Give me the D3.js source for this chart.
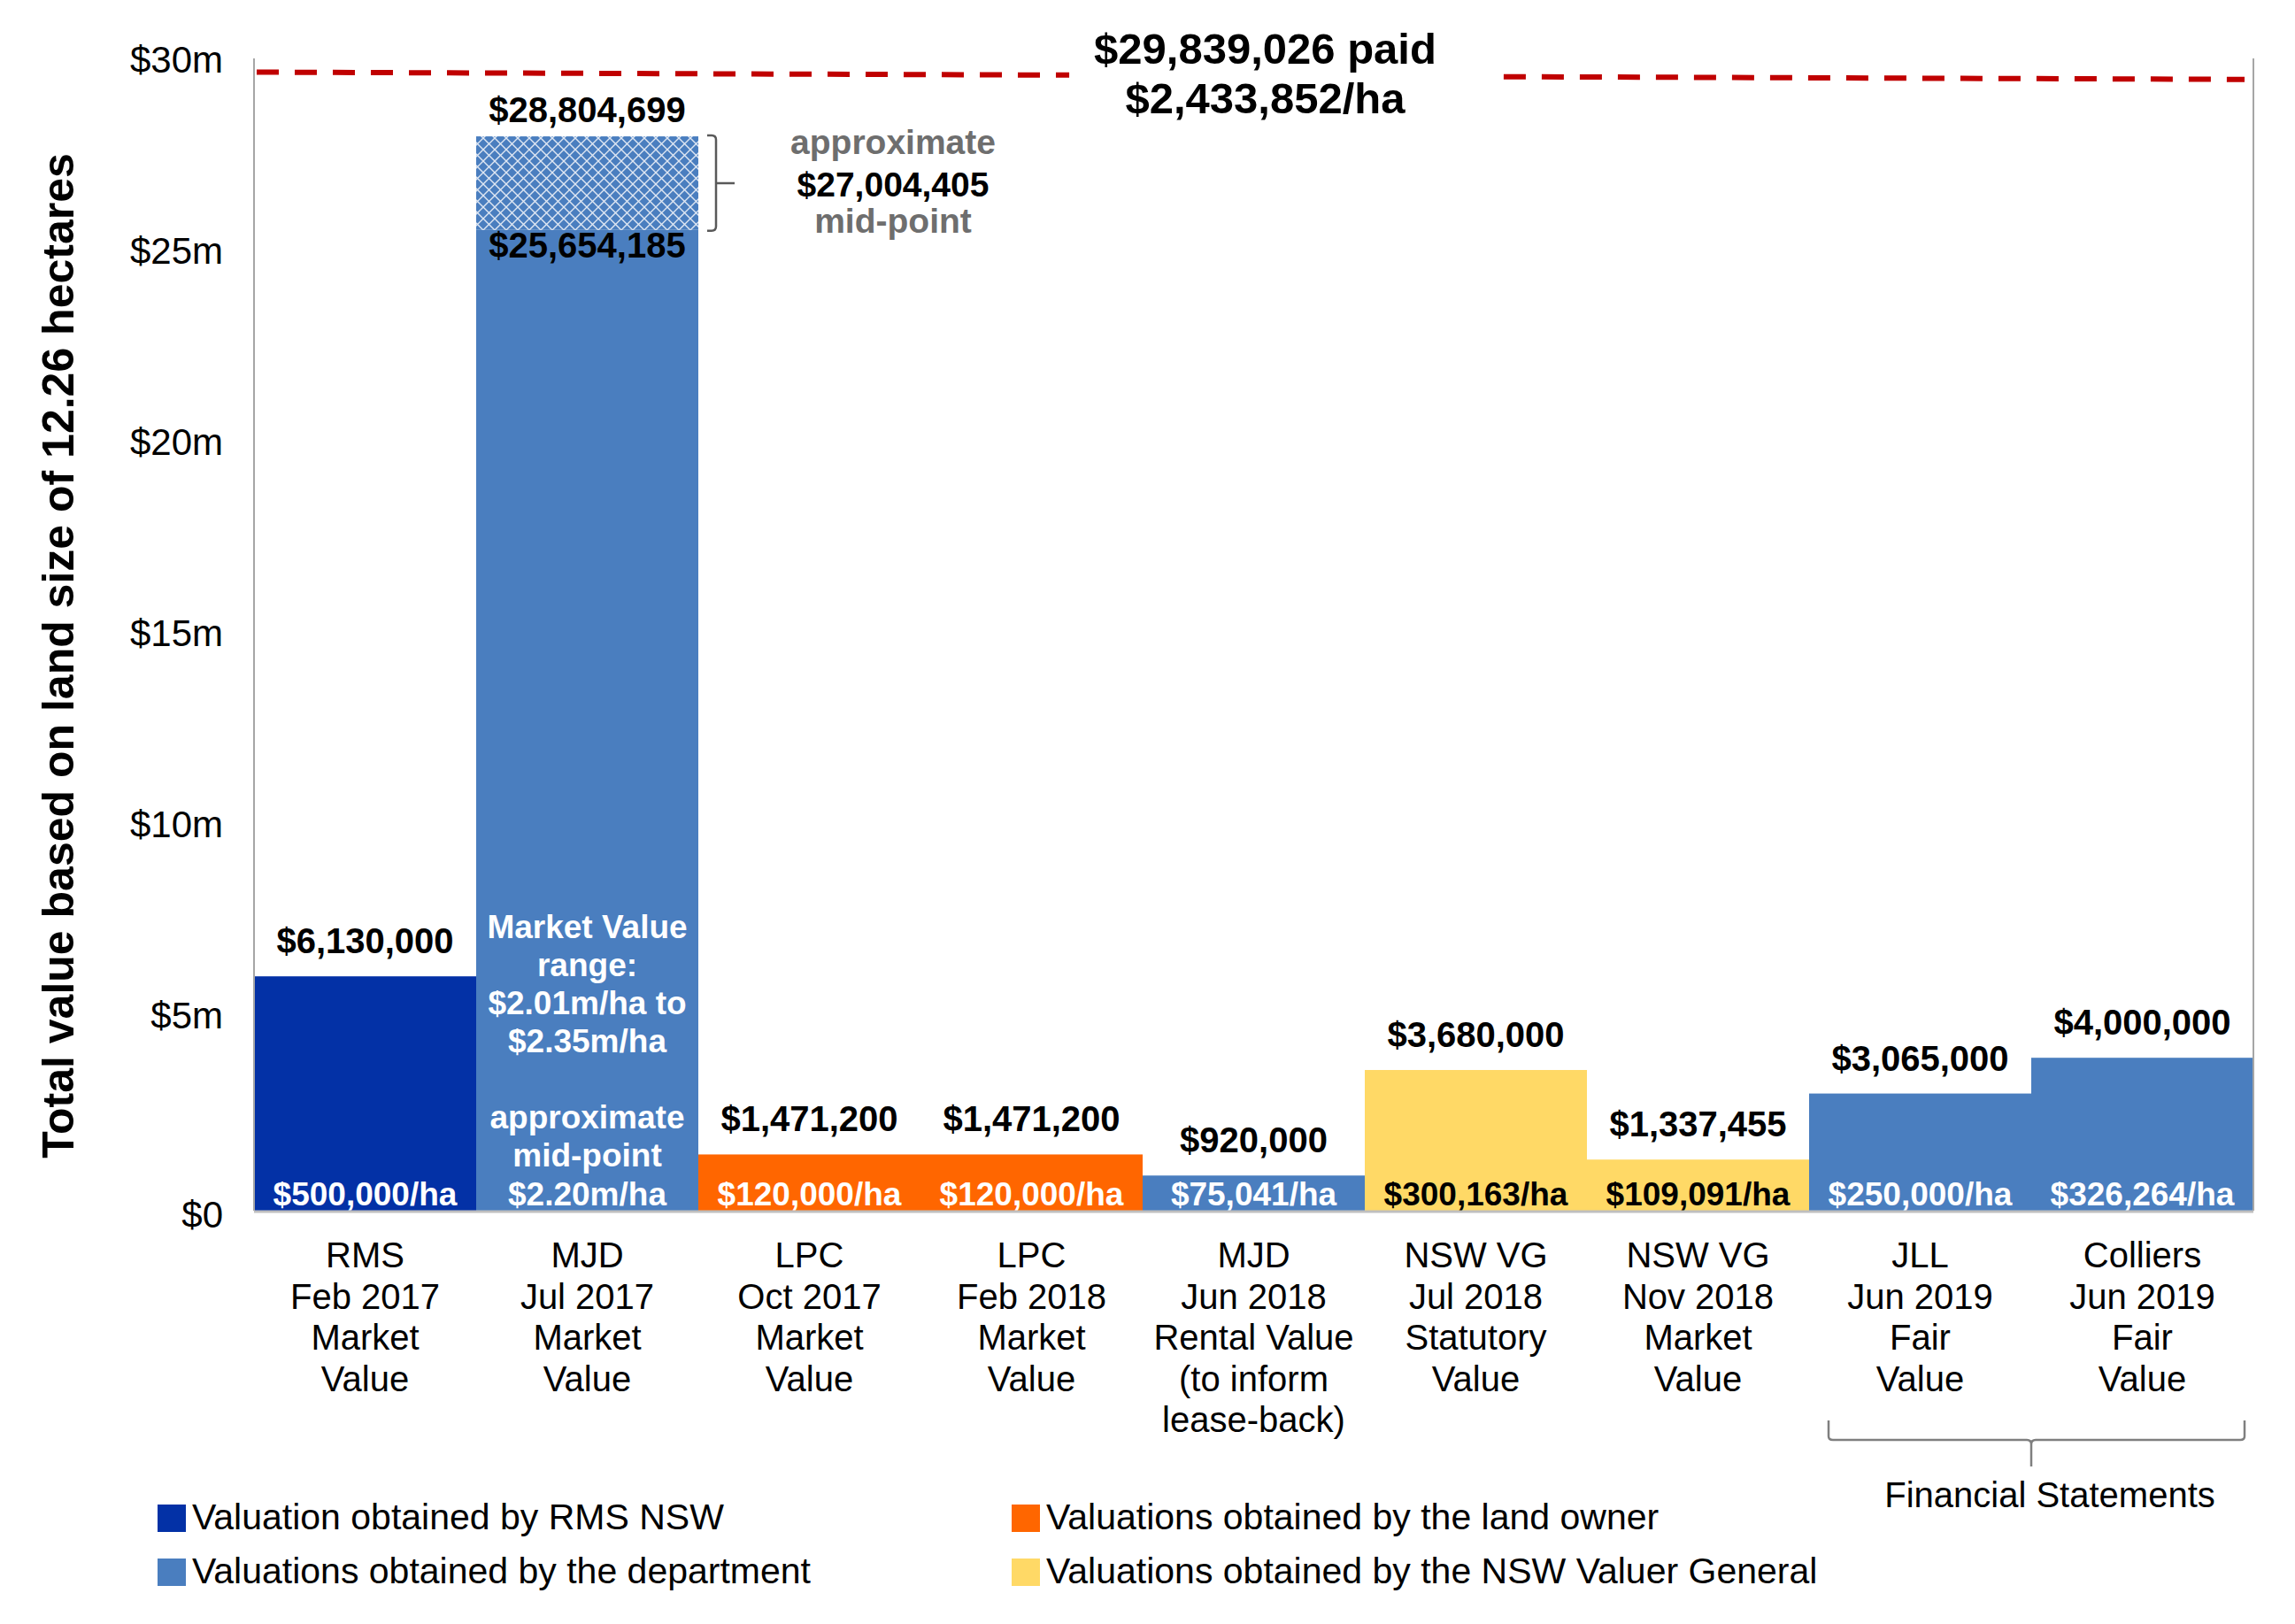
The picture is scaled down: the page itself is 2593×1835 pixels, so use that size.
<!DOCTYPE html>
<html>
<head>
<meta charset="utf-8">
<script src="https://cdn.jsdelivr.net/npm/d3@7"></script>
<style>
  body { margin: 0; background: #fff; }
  svg { display: block; font-family: "Liberation Sans", Arial, sans-serif; }
</style>
</head>
<body>
<svg id="chart"></svg>
<script>
// valuations of the 12.26 ha site
const sources = ["RMS", "MJD", "LPC", "LPC", "MJD", "NSW VG", "NSW VG", "JLL", "Colliers"];
const dates = ["Feb 2017", "Jul 2017", "Oct 2017", "Feb 2018", "Jun 2018", "Jul 2018", "Nov 2018", "Jun 2019", "Jun 2019"];
const valueTypes = [
    ["Market", "Value"], ["Market", "Value"], ["Market", "Value"], ["Market", "Value"],
    ["Rental Value", "(to inform", "lease-back)"], ["Statutory", "Value"], ["Market", "Value"],
    ["Fair", "Value"], ["Fair", "Value"]
];
const values = [6130000, 25654185, 1471200, 1471200, 920000, 3680000, 1337455, 3065000, 4000000];
const valueLabels = ["$6,130,000", "$25,654,185", "$1,471,200", "$1,471,200", "$920,000", "$3,680,000", "$1,337,455", "$3,065,000", "$4,000,000"];
const perHectare = ["$500,000/ha", "", "$120,000/ha", "$120,000/ha", "$75,041/ha", "$300,163/ha", "$109,091/ha", "$250,000/ha", "$326,264/ha"];
const obtainedBy = ["rms", "department", "owner", "owner", "department", "vg", "vg", "department", "department"];

// MJD Jul 2017 upper range (hatched part), as drawn
const rangeTop = 28100000;
const rangeTopLabel = "$28,804,699";
const midPointLines = ["approximate", "$27,004,405", "mid-point"];
const mjdRangeLines = ["Market Value", "range:", "$2.01m/ha to", "$2.35m/ha"];
const mjdMidLines = ["approximate", "mid-point", "$2.20m/ha"];

// price paid line, level at its left and right end as drawn
const paidLevels = [29780000, 29590000];
const paidLines = ["$29,839,026 paid", "$2,433,852/ha"];

const yTicks = [0, 5000000, 10000000, 15000000, 20000000, 25000000, 30000000];
const yTickLabels = ["$0", "$5m", "$10m", "$15m", "$20m", "$25m", "$30m"];

const legendKeys = ["rms", "department", "owner", "vg"];
const legendLabels = [
    "Valuation obtained by RMS NSW",
    "Valuations obtained by the department",
    "Valuations obtained by the land owner",
    "Valuations obtained by the NSW Valuer General"
];

const width = 2593, height = 1835;
const chart = d3.select("#chart").attr("width", width).attr("height", height);

const x = d3.scaleBand().domain(d3.range(values.length)).range([287, 2546]).padding(0);
const y = d3.scaleLinear().domain([0, 30000000]).range([1368, 72]);
const z = d3.scaleOrdinal().domain(legendKeys).range(["#0331A6", "#4A7EBF", "#FF6600", "#FFD966"]);
const labelColor = { rms: "#fff", department: "#fff", owner: "#fff", vg: "#000" };

const defs = chart.append("defs");
const pat = defs.append("pattern")
    .attr("id", "diamond")
    .attr("patternUnits", "userSpaceOnUse")
    .attr("width", 13)
    .attr("height", 13);
pat.append("rect").attr("width", 13).attr("height", 13).attr("fill", z("department"));
pat.append("path")
    .attr("d", "M0,0L13,13M13,0L0,13")
    .attr("stroke", "#dfe7f3")
    .attr("stroke-width", 1.4);

// bars
chart.append("g")
  .selectAll("rect")
  .data(values)
  .enter().append("rect")
    .attr("x", function(d, i) { return x(i); })
    .attr("y", function(d) { return y(d); })
    .attr("width", x.bandwidth())
    .attr("height", function(d) { return y(0) - y(d); })
    .attr("fill", function(d, i) { return z(obtainedBy[i]); });

// hatched range on MJD Jul 2017
chart.append("rect")
    .attr("x", x(1))
    .attr("y", y(rangeTop))
    .attr("width", x.bandwidth())
    .attr("height", y(values[1]) - y(rangeTop))
    .attr("fill", "url(#diamond)");

// axes and frame
const yAxis = chart.append("g")
    .attr("transform", "translate(" + x.range()[0] + ",0)")
    .call(d3.axisLeft(y).tickValues(yTicks).tickSize(0).tickSizeOuter(0).tickPadding(35)
        .tickFormat(function(d, i) { return yTickLabels[i]; }));
yAxis.select(".domain")
    .attr("d", "M0," + (y(30000000) - 6) + "V" + y(0))
    .attr("stroke", "#a6a6a6")
    .attr("stroke-width", 2);
yAxis.selectAll("text")
    .attr("font-size", 42)
    .attr("font-family", "Liberation Sans, Arial, sans-serif")
    .attr("fill", "#000")
    .attr("dy", function(d) { return d === 0 ? "0.45em" : "0.22em"; });

chart.append("line")
    .attr("x1", x.range()[1]).attr("x2", x.range()[1])
    .attr("y1", y(30000000) - 6).attr("y2", y(0))
    .attr("stroke", "#a6a6a6").attr("stroke-width", 2);

chart.append("line")
    .attr("x1", x.range()[0]).attr("x2", x.range()[1])
    .attr("y1", y(0) + 1).attr("y2", y(0) + 1)
    .attr("stroke", "#bfbfbf").attr("stroke-width", 3);

chart.append("text")
    .attr("transform", "translate(83," + 741 + ")rotate(-90)")
    .attr("text-anchor", "middle")
    .attr("font-size", 50)
    .attr("font-weight", 700)
    .text("Total value based on land size of 12.26 hectares");

// category labels
const cat = chart.append("g")
  .selectAll("text")
  .data(values)
  .enter().append("text")
    .attr("text-anchor", "middle")
    .attr("font-size", 40)
    .attr("y", y(0) + 64);
cat.selectAll("tspan")
  .data(function(d, i) { return [sources[i], dates[i]].concat(valueTypes[i]).map(function(t) { return { t: t, i: i }; }); })
  .enter().append("tspan")
    .attr("x", function(d) { return x(d.i) + x.bandwidth() / 2; })
    .attr("dy", function(d, k) { return k === 0 ? 0 : 46.5; })
    .text(function(d) { return d.t; });

// value labels above bars
chart.append("g")
  .selectAll("text")
  .data(values)
  .enter().append("text")
    .attr("x", function(d, i) { return x(i) + x.bandwidth() / 2; })
    .attr("y", function(d, i) { return i === 1 ? y(d) + 31 : y(d) - 26; })
    .attr("text-anchor", "middle")
    .attr("font-size", 40)
    .attr("font-weight", 700)
    .text(function(d, i) { return valueLabels[i]; });

chart.append("text")
    .attr("x", x(1) + x.bandwidth() / 2)
    .attr("y", y(rangeTop) - 16)
    .attr("text-anchor", "middle")
    .attr("font-size", 40)
    .attr("font-weight", 700)
    .text(rangeTopLabel);

// per hectare labels at the foot of each bar
chart.append("g")
  .selectAll("text")
  .data(perHectare)
  .enter().append("text")
    .attr("x", function(d, i) { return x(i) + x.bandwidth() / 2; })
    .attr("y", y(0) - 6)
    .attr("text-anchor", "middle")
    .attr("font-size", 37)
    .attr("font-weight", 700)
    .attr("fill", function(d, i) { return labelColor[obtainedBy[i]]; })
    .text(function(d) { return d; });

// text inside the MJD Jul 2017 bar
const mjdX = x(1) + x.bandwidth() / 2;
chart.append("g")
    .attr("text-anchor", "middle")
    .attr("font-size", 37)
    .attr("font-weight", 700)
    .attr("fill", "#fff")
  .selectAll("text")
  .data(mjdRangeLines.map(function(t) { return { t: t, top: true }; })
      .concat(mjdMidLines.slice(0, 2).map(function(t) { return { t: t, top: false }; })))
  .enter().append("text")
    .attr("x", mjdX)
    .attr("y", function(d, k) { return d.top ? y(0) - 308 + k * 43 : y(0) - 93 + (k - 4) * 43; })
    .text(function(d) { return d.t; });
chart.append("text")
    .attr("x", mjdX)
    .attr("y", y(0) - 6)
    .attr("text-anchor", "middle")
    .attr("font-size", 37)
    .attr("font-weight", 700)
    .attr("fill", "#fff")
    .text(mjdMidLines[2]);

// brace and mid-point note beside the hatched range
const bx = x(1) + x.bandwidth() + 10;
const bTop = y(rangeTop) - 1, bBot = y(values[1]) + 1, bMid = (bTop + bBot) / 2;
chart.append("path")
    .attr("d", "M" + bx + "," + bTop + "H" + (bx + 5) + "Q" + (bx + 10) + "," + bTop + " " + (bx + 10) + "," + (bTop + 5) +
        "V" + bMid + "H" + (bx + 31) + "M" + (bx + 10) + "," + bMid + "V" + (bBot - 5) +
        "Q" + (bx + 10) + "," + bBot + " " + (bx + 5) + "," + bBot + "H" + bx)
    .attr("fill", "none")
    .attr("stroke", "#595959")
    .attr("stroke-width", 2.5);

chart.append("g")
    .attr("text-anchor", "middle")
    .attr("font-size", 39)
    .attr("font-weight", 700)
  .selectAll("text")
  .data(midPointLines)
  .enter().append("text")
    .attr("x", bx + 210)
    .attr("y", function(d, k) { return [174, 222, 263][k]; })
    .attr("fill", function(d, k) { return k === 1 ? "#000" : "#6e6e6e"; })
    .text(function(d) { return d; });

// price paid line
const paid = chart.append("g")
    .attr("text-anchor", "middle")
    .attr("font-size", 49)
    .attr("font-weight", 700);
paid.selectAll("text")
  .data(paidLines)
  .enter().append("text")
    .attr("x", x(4) + x.bandwidth() / 2 + 13)
    .attr("y", function(d, k) { return 72 + k * 56; })
    .text(function(d) { return d; });
const pb = paid.node().getBBox();
const lineX = [x.range()[0] + 3, x.range()[1] - 10];
const paidY = d3.scaleLinear().domain(lineX).range(paidLevels.map(y));
const paidSegments = [[lineX[0], pb.x - 28], [pb.x + pb.width + 76, lineX[1]]];
chart.append("g")
  .selectAll("line")
  .data(paidSegments)
  .enter().append("line")
    .attr("x1", function(d) { return d[0]; })
    .attr("x2", function(d) { return d[1]; })
    .attr("y1", function(d) { return paidY(d[0]); })
    .attr("y2", function(d) { return paidY(d[1]); })
    .attr("stroke", "#C00000")
    .attr("stroke-width", 6)
    .attr("stroke-dasharray", "25,18");

// financial statements bracket
const fl = x(7) + 22, fr = x(8) + x.bandwidth() - 10, fc = x(8);
const fy = 1627;
chart.append("path")
    .attr("d", "M" + fl + "," + (fy - 22) + "V" + (fy - 4) + "Q" + fl + "," + fy + " " + (fl + 5) + "," + fy +
        "H" + (fc - 5) + "Q" + fc + "," + fy + " " + fc + "," + (fy + 5) + "V" + (fy + 30) +
        "M" + fc + "," + (fy + 5) + "Q" + fc + "," + fy + " " + (fc + 5) + "," + fy +
        "H" + (fr - 5) + "Q" + fr + "," + fy + " " + fr + "," + (fy - 4) + "V" + (fy - 22))
    .attr("fill", "none")
    .attr("stroke", "#7f7f7f")
    .attr("stroke-width", 2.5);
chart.append("text")
    .attr("x", fc + 21)
    .attr("y", 1703)
    .attr("text-anchor", "middle")
    .attr("font-size", 40)
    .text("Financial Statements");

// legend
const legend = chart.append("g")
  .selectAll("g")
  .data(legendKeys)
  .enter().append("g")
    .attr("transform", function(d, i) { return "translate(" + (i < 2 ? 178 : 1143) + "," + (1700 + (i % 2) * 61) + ")"; });
legend.append("rect")
    .attr("width", 32)
    .attr("height", 31)
    .attr("fill", z);
legend.append("text")
    .attr("x", 39)
    .attr("y", 28)
    .attr("font-size", 41)
    .text(function(d, i) { return legendLabels[i]; });
</script>
</body>
</html>
